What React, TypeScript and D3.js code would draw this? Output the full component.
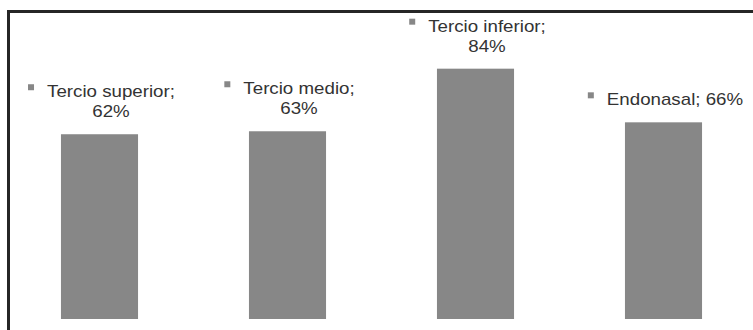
import React, { useEffect, useRef } from "react";
import * as d3 from "d3";

// Zones and their percentages
const categories: string[] = ["Tercio superior", "Tercio medio", "Tercio inferior", "Endonasal"];
const values: number[] = [62, 63, 84, 66];

const WIDTH = 753;
const HEIGHT = 330;
const FONT = "'Liberation Sans', Arial, Helvetica, sans-serif";
const STRETCH = 1.17; // horizontal stretch of the label glyphs
const BAR_COLOR = "#878787";
const TEXT_COLOR = "#333333";

export default function App() {
  const ref = useRef<SVGSVGElement | null>(null);

  useEffect(() => {
    const svg = d3.select(ref.current);
    svg.selectAll("*").remove();

    const x = d3
      .scaleBand<string>()
      .domain(categories)
      .range([5.5, 757.5])
      .paddingInner(0.59)
      .paddingOuter(0.295);

    const y = d3.scaleLinear().domain([0, 100]).range([319, 21]);

    // frame: top and left rules
    svg
      .append("line")
      .attr("x1", 7)
      .attr("x2", WIDTH)
      .attr("y1", 11.5)
      .attr("y2", 11.5)
      .attr("stroke", "#262626")
      .attr("stroke-width", 3);
    svg
      .append("line")
      .attr("x1", 8.5)
      .attr("x2", 8.5)
      .attr("y1", 10)
      .attr("y2", HEIGHT)
      .attr("stroke", "#262626")
      .attr("stroke-width", 3);

    // bars
    svg
      .append("g")
      .selectAll("rect")
      .data(categories)
      .join("rect")
      .attr("x", (d) => x(d)!)
      .attr("width", x.bandwidth())
      .attr("y", (_, i) => y(values[i]))
      .attr("height", (_, i) => y(0) - y(values[i]))
      .attr("fill", BAR_COLOR);

    // data labels with legend key
    const labels = svg.append("g");
    const lineGap = 20;
    const keySize = 6;
    const keyGap = 13;
    const maxOneLine = 150;

    categories.forEach((cat, i) => {
      const v = values[i];
      const cx = x(cat)! + x.bandwidth() / 2 + 2;
      const bottomBaseline = y(v) - 17;

      const measure = (s: string) => {
        const t = labels
          .append("text")
          .attr("font-family", FONT)
          .attr("font-size", 16)
          .text(s);
        const w = (t.node() as SVGTextElement).getComputedTextLength() * STRETCH;
        t.remove();
        return w;
      };

      const full = `${cat}; ${v}%`;
      let lines: string[] = [full];
      if (measure(full) > maxOneLine) lines = [`${cat};`, `${v}%`];
      const widths = lines.map(measure);
      const textW = Math.max(...widths);
      const boxW = keySize + keyGap + textW;
      const boxLeft = cx - boxW / 2;
      const textCenter = boxLeft + keySize + keyGap + textW / 2;
      const firstBaseline = bottomBaseline - (lines.length - 1) * lineGap;

      labels
        .append("rect")
        .attr("x", boxLeft)
        .attr("y", firstBaseline - 13)
        .attr("width", keySize)
        .attr("height", keySize)
        .attr("fill", BAR_COLOR);

      lines.forEach((ln, j) => {
        labels
          .append("g")
          .attr(
            "transform",
            `translate(${textCenter},${firstBaseline + j * lineGap}) scale(${STRETCH},1)`
          )
          .append("text")
          .attr("text-anchor", "middle")
          .attr("font-family", FONT)
          .attr("font-size", 16)
          .attr("fill", TEXT_COLOR)
          .text(ln);
      });
    });
  }, []);

  return (
    <svg
      ref={ref}
      width={WIDTH}
      height={HEIGHT}
      style={{ position: "absolute", left: 0, top: 0, background: "#ffffff" }}
    />
  );
}
